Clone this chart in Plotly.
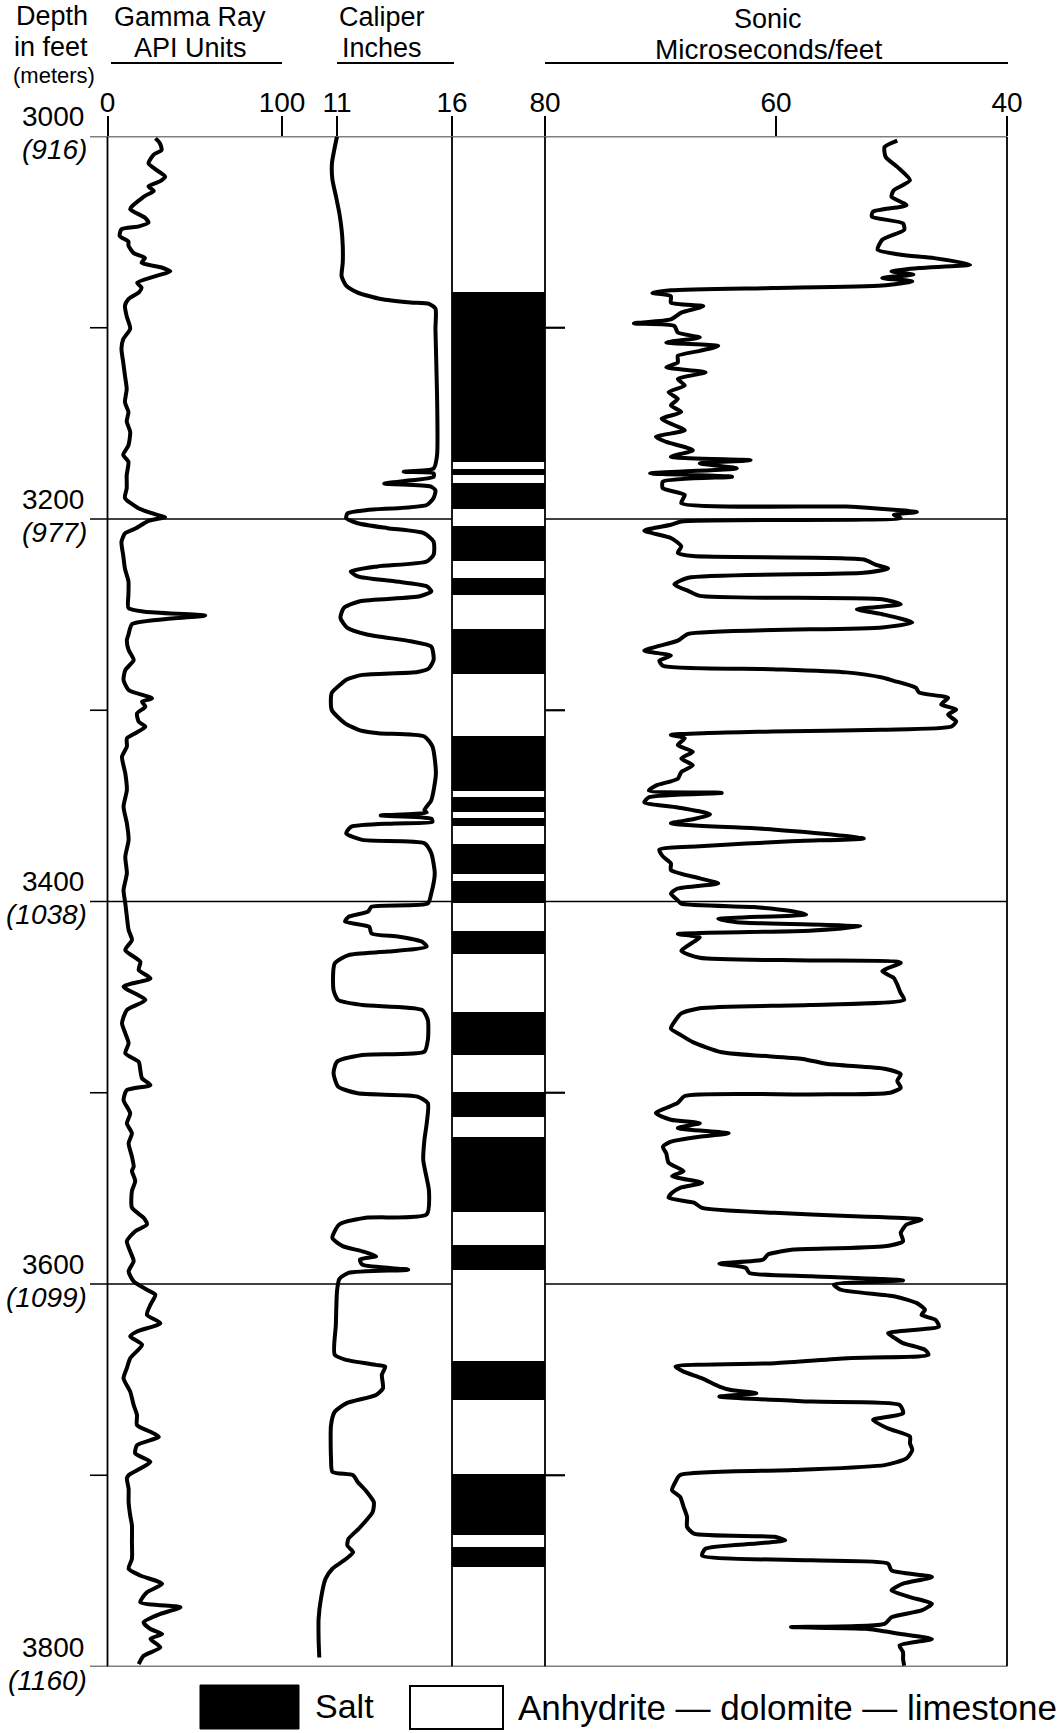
import plotly.graph_objects as go

W, H = 1062, 1733

# ---------------- data ----------------
DEPTH_RANGE = [3000, 3800]
MAJOR_DEPTHS = [3000, 3200, 3400, 3600, 3800]
MAJOR_METERS = ["916", "977", "1038", "1099", "1160"]
MINOR_DEPTHS = [3100, 3300, 3500, 3700]

GR_RANGE = [0, 100]
GR_TICKS = [0, 100]
CAL_TICKS = [11, 16]
SONIC_RANGE = [80, 40]
SONIC_TICKS = [80, 60, 40]

GR_DEPTH = [3001, 3003.5, 3007, 3009.5, 3014, 3016.5, 3021, 3023.5, 3026, 3028.5, 3031, 3036.5, 3038,
            3042.5, 3045, 3047, 3048.5, 3052, 3055, 3057, 3061, 3063.5, 3066, 3068.5, 3070.5, 3073,
            3076.5, 3079, 3081.5, 3085, 3088.5, 3094, 3100.5, 3106, 3111, 3118, 3125, 3132, 3139, 3144,
            3149, 3154.5, 3161.5, 3166.5, 3170, 3177, 3184, 3189, 3194.5, 3198, 3199, 3201, 3205,
            3207.5, 3212, 3219, 3226, 3232.5, 3239.5, 3246.5, 3248.5, 3250.5, 3252.5, 3255, 3260.5,
            3263.3, 3268.5, 3273.7, 3279, 3284.2, 3289.4, 3293.8, 3295.5, 3298.1, 3301.6, 3306, 3308.6,
            3312, 3314.7, 3319, 3324.3, 3333, 3341.7, 3350.4, 3359.1, 3367.8, 3376.6, 3385.3, 3394,
            3401, 3408, 3414.9, 3420.1, 3425.4, 3431.5, 3435.8, 3440.2, 3444.5, 3451.5, 3456.7, 3463.7,
            3468.9, 3474.1, 3479.4, 3483.8, 3488.1, 3492.5, 3496, 3498.6, 3503.8, 3510.7, 3516, 3521.2,
            3526.4, 3533.4, 3538.7, 3540.9, 3546.2, 3551.4, 3560.1, 3565.4, 3568.9, 3572.4, 3577.6,
            3582.9, 3588.1, 3593.4, 3598.6, 3603, 3605.6, 3610.8, 3616.1, 3620.5, 3624.8, 3627.4,
            3631.8, 3638.8, 3644, 3649.3, 3656.3, 3663.3, 3668.5, 3673.8, 3677.3, 3679.9, 3684.3,
            3688.6, 3693, 3696.5, 3700, 3701.7, 3707, 3714, 3721, 3726.2, 3734.9, 3743.7, 3748.9,
            3752.4, 3756.8, 3761.2, 3766.4, 3769, 3772.5, 3776.9, 3780.4, 3783, 3785.6, 3790, 3794.4,
            3798.7]
GR_API = [27.5, 30, 31, 26.5, 23.5, 26.5, 33, 30, 23.5, 26.5, 21.5, 14, 13,
          21.5, 23.5, 18, 8, 7, 12, 12, 15, 21.5, 19.5, 31, 36, 27.5,
          17, 19.5, 18, 12, 10, 11, 13, 9, 8, 9, 10, 11, 10, 12,
          11, 13, 12, 9, 12, 11, 11, 10, 18, 29, 33, 23.5, 16,
          10, 8, 9, 10, 12, 12, 12, 21.5, 56, 31, 14, 12,
          11.1, 12.1, 15, 10.2, 9.2, 12.1, 25.5, 19.8, 21.7, 16.9, 17.9, 21.7,
          15.9, 11.1, 11.1, 8.3, 10.2, 11.1, 9.2, 11.1, 12.1, 10.2, 11.1, 9.2,
          10.2, 11.1, 12.1, 14, 10.2, 18.8, 17.9, 24.6, 9.2, 21.7, 11.1, 8.3,
          10.2, 12.1, 10.2, 17.9, 18.8, 19.8, 24.6, 11.1, 9.2, 13, 11.1, 14,
          12.1, 14, 15, 14, 15.9, 14, 14, 20.7, 22.6, 15.9, 11.1,
          13, 15, 12.1, 15, 22.6, 27.4, 24.6, 22.6, 30.3, 16.9, 13,
          19.8, 13, 11.1, 9.2, 13, 15, 16.9, 16.9, 24.6, 29.4, 16.9,
          15.9, 24.6, 18.8, 12.1, 11.1, 12.1, 12.1, 13, 14, 14, 14, 12.1,
          18.8, 31.3, 22.6, 18.8, 41.8, 30.3, 20.7, 24.6, 31.3, 24.6, 30.3, 20.7,
          17.9]

CAL_DEPTH = [3000, 3007, 3014, 3022.5, 3031, 3040, 3048.6, 3057, 3066, 3073, 3078, 3081.6, 3085,
             3086.8, 3087.5, 3090, 3100.7, 3135, 3166.7, 3173.6, 3175.3, 3176.1, 3178, 3181.4, 3183,
             3185, 3189, 3192.7, 3195.3, 3197, 3199.6, 3202.2, 3204.8, 3207.4, 3211.8, 3218.7, 3222.2,
             3224.8, 3227.4, 3230, 3232.6, 3235.2, 3237.8, 3240.4, 3243, 3246.5, 3251.7, 3256.9,
             3260.4, 3263.9, 3266.7, 3273.7, 3278, 3280, 3281.5, 3284, 3286, 3291, 3299.8, 3306.8,
             3310.5, 3312, 3313.7, 3319, 3333, 3347, 3352.2, 3353.5, 3355, 3356.7, 3358.4, 3359.2,
             3361, 3364.4, 3367.8, 3369.5, 3374.8, 3385.3, 3395.7, 3401, 3402.7, 3405.3, 3408, 3410.5,
             3413.2, 3416.7, 3418.4, 3421, 3423.6, 3426.2, 3428, 3432.4, 3446.3, 3451.5, 3454.1,
             3456.7, 3462, 3472.4, 3478.5, 3480.3, 3483.8, 3489.8, 3496.8, 3500.3, 3502, 3505.5,
             3516, 3524.7, 3535.2, 3551.4, 3563.6, 3565.4, 3568.9, 3575.9, 3580.2, 3582.9, 3585.5,
             3587.2, 3589.9, 3592.5, 3594.2, 3597.4, 3603.8, 3621.3, 3637, 3639.7, 3642.3, 3643.2,
             3647.5, 3654.5, 3658, 3662.4, 3666.8, 3673.8, 3691.2, 3698.2, 3700, 3703.5, 3708.7, 3714,
             3719.2, 3727.9, 3733.2, 3736.7, 3740.2, 3743.7, 3748.9, 3754.2, 3764.7, 3775.1, 3785.6,
             3795.3]
CAL_INCH = [11.0, 10.88, 10.78, 10.8, 10.95, 11.1, 11.2, 11.25, 11.25, 11.2, 11.4, 11.9, 12.9,
            14.2, 15.0, 15.28, 15.28, 15.35, 15.35, 15.2, 13.9, 15.2, 15.2, 13.05, 15.06,
            15.28, 15.2, 14.9, 12.3, 11.46, 11.4, 11.9, 13.2, 14.77, 15.2, 15.2, 14.9,
            12.76, 11.6, 11.9, 13.5, 14.9, 15.1, 14.6, 12.0, 11.3, 11.15, 11.45,
            12.3, 14.2, 15.1, 15.2, 15.0, 14.5, 12.1, 11.4, 11.2, 10.77, 10.77, 11.35,
            12.0, 12.8, 14.8, 15.15, 15.3, 15.1, 14.8, 14.9, 12.9, 15.1, 15.15, 13.5,
            11.6, 11.4, 12.1, 14.8, 15.1, 15.25, 15.1, 14.95, 12.5, 12.35, 11.5, 11.35,
            12.4, 12.5, 13.7, 14.7, 14.9, 13.2, 11.5, 10.9, 10.85, 11.05, 12.1,
            14.7, 14.95, 14.95, 14.8, 12.1, 11.0, 10.85, 11.05, 11.9, 14.5, 14.95,
            14.9, 14.8, 14.75, 15.0, 14.9, 12.25, 11.1, 10.8, 11.25, 12.1, 12.7,
            12.0, 12.1, 14.1, 11.5, 11.1, 11.0, 10.95, 10.9, 11.4, 12.7, 13.1,
            12.95, 13.0, 12.7, 11.4, 10.9, 10.74, 10.74, 10.8, 11.7, 11.9, 12.3, 12.6,
            12.55, 11.95, 11.5, 11.45, 11.7, 11.4, 10.8, 10.5, 10.3, 10.2, 10.2,
            10.23]

SONIC_DEPTH = [3002.1, 3005.5, 3010.7, 3015.9, 3022.9, 3028.1, 3031.5, 3035.9, 3039.3, 3041.9, 3045.4,
               3048.8, 3054, 3059.2, 3061.8, 3063.6, 3067, 3068.8, 3070.5, 3072.2, 3074, 3075.7, 3077.9,
               3079.2, 3080.4, 3081.8, 3083.5, 3086.9, 3088.7, 3092.1, 3095.6, 3097.7, 3099.1, 3102.5,
               3105.1, 3107.7, 3109.5, 3112.1, 3114.7, 3118.1, 3120.7, 3123.3, 3126.8, 3130.2, 3133.7,
               3137.2, 3140.6, 3144.1, 3147.6, 3151, 3153.6, 3157.1, 3159.7, 3164, 3167.5, 3169.2,
               3170.9, 3173.5, 3176.1, 3177.9, 3180.5, 3183.9, 3187.4, 3191.7, 3193.5, 3195.2, 3196.4,
               3197.8, 3199.5, 3201.3, 3203, 3206.1, 3209.9, 3214.3, 3217.7, 3219.4, 3221.2, 3223.8,
               3225.9, 3228.1, 3230.7, 3234.2, 3237.6, 3240.2, 3242, 3244.6, 3247.2, 3249.8, 3254.1,
               3256.7, 3260.1, 3263.6, 3268.8, 3271.4, 3274.1, 3276.7, 3278.5, 3280.2, 3282.9,
               3284.6, 3288.2, 3290.8, 3293.5, 3297, 3299.6, 3302.3, 3305.8, 3308.5, 3310.2, 3311.1,
               3312.9, 3314.6, 3318.2, 3321.7, 3325.2, 3328.8, 3332.3, 3335.8, 3339.4, 3342, 3343.2,
               3345.5, 3348.2, 3350.8, 3354.4, 3357, 3359.1, 3362.3, 3365.8, 3367.1, 3368.5, 3371.1,
               3372.9, 3376.4, 3380, 3383.5, 3387.9, 3390.5, 3393.2, 3395.8, 3399.4, 3401.1, 3402.9,
               3405, 3406.8, 3409.1, 3410.8, 3413, 3415.3, 3417, 3418.8, 3421.4, 3425.8, 3429.4,
               3430.8, 3432, 3436.4, 3440, 3443.5, 3447.9, 3451.4, 3454.1, 3455.8, 3458.5, 3462.9,
               3466.4, 3470, 3473.5, 3478.8, 3482.3, 3485, 3487.6, 3490.3, 3493.8, 3497.3, 3500,
               3500.9, 3501.7, 3505.3, 3510.6, 3514.1, 3515.9, 3518.5, 3521.2, 3523, 3525.6, 3528.2,
               3531.7, 3536.6, 3541, 3543.6, 3547.1, 3549.7, 3552.3, 3554.9, 3557.5, 3560.2, 3562.8,
               3564.5, 3566.3, 3568.9, 3573.3, 3577.6, 3580.3, 3582, 3582.9, 3584.6, 3587.2, 3589.3,
               3591.6, 3594.2, 3596, 3598.1, 3600.3, 3603, 3606.5, 3610, 3613.5, 3616.1, 3618.7,
               3622.2, 3625.7, 3628.3, 3630.9, 3634.4, 3637, 3638.8, 3641.4, 3643.2, 3645.8, 3649.3,
               3653.6, 3655.4, 3657.1, 3658.9, 3661.5, 3663.2, 3667.6, 3671.1, 3675.5, 3679.8, 3683.3,
               3686.8, 3691.2, 3694.7, 3697.3, 3699.9, 3703.4, 3707.8, 3711.3, 3716.5, 3721.8, 3727,
               3730.5, 3732.2, 3734, 3735.7, 3738.4, 3741.9, 3744.5, 3746.2, 3749.7, 3753.2, 3756.7,
               3760.2, 3763.7, 3767.2, 3770.7, 3774.2, 3777.7, 3779.4, 3780.3, 3782.9, 3785.6, 3789,
               3792.5, 3796, 3799.5]
SONIC_US = [49.5, 50.6, 50.5, 49.5, 48.4, 49.8, 50.0, 48.7, 51.6, 51.7, 49.0,
            48.9, 50.8, 51.2, 49.2, 46.3, 43.2, 47.6, 50.0, 48.1, 50.8, 48.2, 50.8,
            60.3, 69.1, 70.7, 69.1, 69.1, 66.3, 68.2, 69.1, 72.3, 68.8, 68.5,
            66.6, 69.5, 65.0, 66.6, 68.5, 68.5, 69.5, 66.1, 68.5, 67.9, 69.3,
            68.5, 69.1, 68.2, 69.9, 68.8, 67.9, 70.4, 69.5, 67.2, 69.1, 62.2,
            66.6, 63.4, 70.9, 63.8, 69.8, 69.8, 67.9, 68.2, 53.9, 49.8, 47.8,
            49.8, 49.2, 68.2, 69.1, 71.4, 69.1, 68.2, 68.5, 67.2, 52.4, 51.4,
            50.3, 52.4, 67.6, 68.8, 67.6, 66.6, 50.8, 49.2, 53.0, 50.8, 48.2,
            50.8, 67.6, 68.5, 71.4, 69.1, 70.1, 69.8, 60.3, 53.9, 50.8,
            49.8, 47.9, 47.6, 45.1, 45.7, 44.4, 45.1, 44.4, 44.8, 50.8, 60.3,
            69.1, 67.9, 68.5, 67.2, 68.2, 67.2, 68.2, 68.5, 70.4, 71.0, 64.7,
            71.0, 71.4, 68.5, 65.7, 67.2, 69.1, 60.3, 53.9, 52.4, 58.7, 66.6,
            70.1, 69.8, 69.1, 69.1, 66.6, 65.0, 68.5, 69.1, 68.5, 68.2, 61.9,
            58.7, 57.4, 65.0, 63.4, 52.7, 57.1, 68.5, 66.6, 67.2, 68.2, 66.6,
            57.1, 49.2, 50.8, 49.8, 49.5, 49.2, 48.9, 57.1, 66.6, 68.2, 68.8,
            69.1, 68.2, 67.2, 64.7, 57.7, 55.5, 50.5, 49.2, 49.5, 49.2, 50.1,
            57.1, 67.9, 68.5, 70.4, 69.1, 66.6, 68.5, 64.1, 66.6, 69.1, 69.8,
            69.5, 69.3, 68.0, 69.0, 66.4, 68.3, 69.0, 69.3, 67.1, 66.4, 60.1,
            53.8, 47.4, 48.7, 49.2, 49.0, 50.6, 58.5, 59.5, 60.7, 61.1, 64.9,
            62.6, 62.3, 56.9, 49.0, 55.0, 54.4, 49.7, 47.8, 47.1, 47.4, 46.2,
            45.9, 50.3, 49.7, 49.0, 47.1, 46.8, 53.8, 60.1, 68.7, 68.0, 66.4,
            64.9, 63.9, 61.7, 64.9, 56.9, 49.3, 49.0, 51.6, 50.3, 48.4, 48.4,
            48.2, 48.7, 50.6, 58.5, 68.3, 68.7, 69.0, 68.3, 68.0, 67.7, 67.7,
            67.1, 60.1, 59.2, 61.7, 66.1, 66.4, 56.9, 50.3, 50.0, 46.5, 49.0,
            50.0, 48.4, 46.5, 47.4, 50.0, 50.6, 58.7, 52.2, 49.3, 46.5, 49.3,
            49.0, 49.0, 48.9]

SALT_TOP = [3081.2, 3173.5, 3180.8, 3203.5, 3230.7, 3257.5, 3313.2, 3345.0, 3356.0, 3369.7,
            3389.1, 3414.9, 3457.3, 3499.1, 3522.9, 3579.4, 3640.0, 3699.0, 3737.1]
SALT_BASE = [3169.7, 3176.7, 3194.7, 3221.7, 3239.4, 3280.8, 3342.0, 3353.1, 3360.5, 3385.2,
             3400.3, 3427.1, 3480.2, 3512.3, 3561.9, 3592.5, 3660.6, 3731.0, 3747.6]

# ---------------- layout helpers (pixel -> paper) ----------------
def px(x):
    return x / W


def py(y):
    return 1 - y / H


FONT = "Liberation Sans, Arial, Helvetica, sans-serif"
Y_TOP_PX, Y_BOT_PX = 136.5, 1666.5
GR_X = (107.5, 282)
CAL_X = (282, 452)
CAL_11_PX = 337
LITH_X = (452, 545)
SON_X = (545, 1007)
cal_ppi = (CAL_X[1] - CAL_11_PX) / (CAL_TICKS[1] - CAL_TICKS[0])
CAL_RANGE = [CAL_TICKS[0] - (CAL_11_PX - CAL_X[0]) / cal_ppi, CAL_TICKS[1]]

fig = go.Figure()
curve = dict(color="black", width=4, shape="spline", smoothing=0.6)
fig.add_trace(go.Scatter(x=GR_API, y=GR_DEPTH, mode="lines", line=curve, xaxis="x", yaxis="y",
                         name="Gamma Ray"))
fig.add_trace(go.Scatter(x=CAL_INCH, y=CAL_DEPTH, mode="lines", line=curve, xaxis="x2", yaxis="y",
                         name="Caliper"))
fig.add_trace(go.Bar(x=[0.5] * len(SALT_TOP), y=[b - t for t, b in zip(SALT_TOP, SALT_BASE)],
                     base=SALT_TOP, width=1, marker=dict(color="black", line=dict(width=0)),
                     xaxis="x3", yaxis="y", name="Salt"))
fig.add_trace(go.Scatter(x=SONIC_US, y=SONIC_DEPTH, mode="lines", line=curve, xaxis="x4", yaxis="y",
                         name="Sonic"))

tick_axis = dict(side="top", ticks="outside", ticklen=20, tickwidth=2, tickcolor="black",
                 ticklabelstandoff=-8, automargin=False,
                 showgrid=False, zeroline=False, showline=False, anchor="y",
                 tickfont=dict(family=FONT, size=28, color="black"), fixedrange=True)

fig.update_layout(
    template="none",
    width=W, height=H, margin=dict(l=0, r=0, t=0, b=0, pad=0, autoexpand=False), autosize=False,
    paper_bgcolor="white", plot_bgcolor="rgba(0,0,0,0)", showlegend=False, bargap=0,
    font=dict(family=FONT, color="black"),
    xaxis=dict(domain=[px(GR_X[0]), px(GR_X[1])], range=GR_RANGE, tickvals=GR_TICKS, **tick_axis),
    xaxis2=dict(domain=[px(CAL_X[0]), px(CAL_X[1])], range=CAL_RANGE, tickvals=CAL_TICKS, **tick_axis),
    xaxis3=dict(domain=[px(LITH_X[0]), px(LITH_X[1])], range=[0, 1], visible=False, anchor="y",
                automargin=False, fixedrange=True),
    xaxis4=dict(domain=[px(SON_X[0]), px(SON_X[1])], range=SONIC_RANGE, tickvals=SONIC_TICKS,
                **tick_axis),
    yaxis=dict(domain=[py(Y_BOT_PX), py(Y_TOP_PX)], range=[DEPTH_RANGE[1], DEPTH_RANGE[0]],
               visible=False, anchor="x", automargin=False, fixedrange=True),
)

shapes = []
line = dict(color="black", width=1.6)
# horizontal depth lines
for d in MAJOR_DEPTHS:
    if d in DEPTH_RANGE:
        shapes.append(dict(type="line", xref="paper", yref="y", x0=px(90), x1=px(SON_X[1]),
                           y0=d, y1=d, line=line))
    else:
        shapes.append(dict(type="line", xref="paper", yref="y", x0=px(90), x1=px(LITH_X[0]),
                           y0=d, y1=d, line=line))
        shapes.append(dict(type="line", xref="paper", yref="y", x0=px(LITH_X[1]), x1=px(SON_X[1]),
                           y0=d, y1=d, line=line))
# minor depth ticks
for d in MINOR_DEPTHS:
    shapes.append(dict(type="line", xref="paper", yref="y", x0=px(90), x1=px(GR_X[0]),
                       y0=d, y1=d, line=line))
    shapes.append(dict(type="line", xref="paper", yref="y", x0=px(LITH_X[1]), x1=px(LITH_X[1] + 20),
                       y0=d, y1=d, line=dict(color="black", width=2.2)))
# vertical track borders
for xv in [GR_X[0], LITH_X[0], LITH_X[1], SON_X[1]]:
    shapes.append(dict(type="line", xref="paper", yref="y", x0=px(xv), x1=px(xv),
                       y0=DEPTH_RANGE[0], y1=DEPTH_RANGE[1], line=dict(color="black", width=1.8)))
# header underlines
for x0, x1 in [(111, 282), (337, 454), (545, 1008)]:
    shapes.append(dict(type="line", xref="paper", yref="paper", x0=px(x0), x1=px(x1),
                       y0=py(63), y1=py(63), line=dict(color="black", width=1.8)))
# legend boxes
shapes.append(dict(type="rect", xref="paper", yref="paper", x0=px(200), x1=px(299), y0=py(1729),
                   y1=py(1685), fillcolor="black", line=dict(color="black", width=1)))
shapes.append(dict(type="rect", xref="paper", yref="paper", x0=px(410), x1=px(503), y0=py(1729),
                   y1=py(1686), fillcolor="white", line=dict(color="black", width=2)))
fig.update_layout(shapes=shapes)

ann = []


def text(s, x, y, size=27, xanchor="center", yanchor="middle", yref="paper", italic=False, yshift=0):
    ann.append(dict(text=s, x=x, y=y, xref="paper", yref=yref, xanchor=xanchor, yanchor=yanchor,
                    showarrow=False, yshift=yshift, borderpad=0,
                    font=dict(family=FONT, size=size, color="black",
                              style="italic" if italic else "normal")))


# headers
text("Depth", px(52), py(16.5))
text("in feet", px(51), py(47))
text("(meters)", px(54), py(75), size=22)
text("Gamma Ray", px(190), py(17.5))
text("API Units", px(190), py(48))
text("Caliper", px(382), py(17.5))
text("Inches", px(382), py(48))
text("Sonic", px(768), py(18.5))
text("Microseconds/feet", px(768), py(49), size=28)

# depth labels
for d, m in zip(MAJOR_DEPTHS, MAJOR_METERS):
    text(str(d), px(85), d, size=28, xanchor="right", yanchor="bottom", yref="y", yshift=3)
    text("(" + m + ")", px(88), d, size=28, xanchor="right", yanchor="top", yref="y", italic=True,
         yshift=3)

# legend text
text("Salt", px(314), py(1706), size=34, xanchor="left")
text("Anhydrite \u2014 dolomite \u2014 limestone", px(517), py(1707), size=35, xanchor="left")

fig.update_layout(annotations=ann)
fig.write_html("out.html", config={"displayModeBar": False},
               post_script="document.body.style.margin='0';document.body.style.padding='0';")
